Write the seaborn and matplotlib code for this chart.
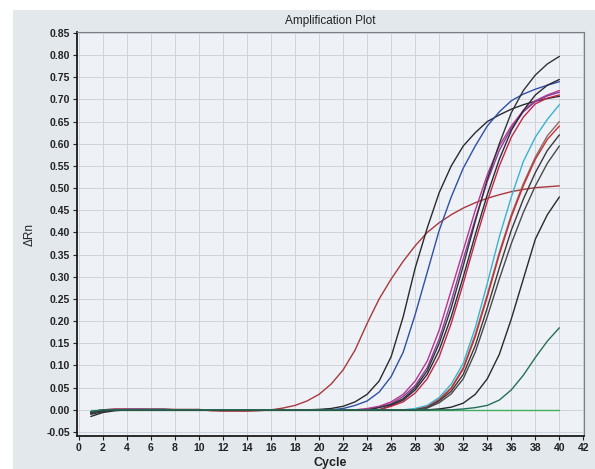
"""
Amplification plot (qPCR) - delta Rn vs cycle for each well.
"""

import matplotlib
matplotlib.use("Agg")
import matplotlib.pyplot as plt
from matplotlib.patches import Rectangle
import pandas as pd
import seaborn as sns

# ---------- DATA ----------
cycles = list(range(1, 41))

ntc_green = [0.0] * 40  # flat no-template control

red_early = [-0.005, 0.0, 0.002, 0.002, 0.002, 0.002, 0.002, 0.001, 0.001, 0.001,
             -0.002, -0.003, -0.003, -0.003, -0.002, 0.0, 0.004, 0.01, 0.02, 0.035,
             0.058, 0.09, 0.135, 0.195, 0.25, 0.295, 0.335, 0.37, 0.40, 0.422,
             0.44, 0.455, 0.467, 0.477, 0.485, 0.492, 0.497, 0.501, 0.503, 0.505]

black_early = [-0.015, -0.006, -0.002, 0.0, 0.0, 0.0, 0.0, 0.0, 0.0, 0.0,
               0.0, 0.0, 0.0, 0.0, 0.0, 0.0, 0.0, 0.0, 0.0, 0.001,
               0.003, 0.008, 0.018, 0.035, 0.065, 0.12, 0.21, 0.32, 0.41, 0.49,
               0.55, 0.595, 0.625, 0.65, 0.665, 0.678, 0.688, 0.696, 0.702, 0.707]

blue = [-0.008, -0.003, 0.0, 0.001, 0.001, 0.001, 0.001, 0.0, 0.0, 0.0,
        0.0, 0.0, 0.0, 0.0, 0.0, 0.0, 0.0, 0.0, 0.0, 0.0,
        0.0, 0.003, 0.01, 0.02, 0.04, 0.075, 0.13, 0.215, 0.31, 0.405,
        0.48, 0.545, 0.595, 0.64, 0.672, 0.697, 0.712, 0.723, 0.732, 0.74]

magenta = [-0.004, 0.0, 0.001, 0.001, 0.001, 0.0, 0.0, 0.0, 0.0, 0.0,
           0.0, 0.0, 0.0, 0.0, 0.0, 0.0, 0.0, 0.0, 0.0, 0.0,
           0.0, 0.0, 0.0, 0.003, 0.008, 0.018, 0.035, 0.065, 0.11, 0.18,
           0.27, 0.36, 0.45, 0.53, 0.595, 0.64, 0.675, 0.697, 0.71, 0.72]

purple = [-0.006, -0.002, 0.0, 0.0, 0.0, 0.0, 0.0, 0.0, 0.0, 0.0,
          0.0, 0.0, 0.0, 0.0, 0.0, 0.0, 0.0, 0.0, 0.0, 0.0,
          0.0, 0.0, 0.0, 0.0, 0.006, 0.014, 0.03, 0.055, 0.095, 0.16,
          0.245, 0.34, 0.43, 0.515, 0.585, 0.635, 0.672, 0.695, 0.708, 0.716]

black_top = [-0.01, -0.004, 0.0, 0.0, 0.0, 0.0, 0.0, 0.0, 0.0, 0.0,
             0.0, 0.0, 0.0, 0.0, 0.0, 0.0, 0.0, 0.0, 0.0, 0.0,
             0.0, 0.0, 0.0, 0.0, 0.005, 0.012, 0.025, 0.05, 0.088, 0.15,
             0.23, 0.325, 0.425, 0.52, 0.60, 0.67, 0.72, 0.755, 0.78, 0.797]

black_b = [-0.007, -0.002, 0.0, 0.0, 0.0, 0.0, 0.0, 0.0, 0.0, 0.0,
           0.0, 0.0, 0.0, 0.0, 0.0, 0.0, 0.0, 0.0, 0.0, 0.0,
           0.0, 0.0, 0.0, 0.0, 0.0, 0.01, 0.022, 0.045, 0.08, 0.135,
           0.21, 0.30, 0.395, 0.485, 0.565, 0.63, 0.675, 0.71, 0.732, 0.745]

crimson = [-0.005, -0.001, 0.0, 0.0, 0.0, 0.0, 0.0, 0.0, 0.0, 0.0,
           0.0, 0.0, 0.0, 0.0, 0.0, 0.0, 0.0, 0.0, 0.0, 0.0,
           0.0, 0.0, 0.0, 0.0, 0.0, 0.008, 0.018, 0.038, 0.07, 0.12,
           0.195, 0.285, 0.38, 0.47, 0.55, 0.615, 0.66, 0.69, 0.703, 0.71]

cyan = [-0.004, 0.0, 0.0, 0.0, 0.0, 0.0, 0.0, 0.0, 0.0, 0.0,
        0.0, 0.0, 0.0, 0.0, 0.0, 0.0, 0.0, 0.0, 0.0, 0.0,
        0.0, 0.0, 0.0, 0.0, 0.0, 0.0, 0.0, 0.003, 0.01, 0.028,
        0.058, 0.105, 0.185, 0.285, 0.39, 0.48, 0.56, 0.615, 0.655, 0.688]

red_late = [-0.006, -0.001, 0.0, 0.0, 0.0, 0.0, 0.0, 0.0, 0.0, 0.0,
            0.0, 0.0, 0.0, 0.0, 0.0, 0.0, 0.0, 0.0, 0.0, 0.0,
            0.0, 0.0, 0.0, 0.0, 0.0, 0.0, 0.0, 0.0, 0.006, 0.022,
            0.048, 0.092, 0.165, 0.255, 0.35, 0.435, 0.505, 0.565, 0.61, 0.64]

brown = [-0.005, -0.001, 0.0, 0.0, 0.0, 0.0, 0.0, 0.0, 0.0, 0.0,
         0.0, 0.0, 0.0, 0.0, 0.0, 0.0, 0.0, 0.0, 0.0, 0.0,
         0.0, 0.0, 0.0, 0.0, 0.0, 0.0, 0.0, 0.0, 0.007, 0.024,
         0.05, 0.095, 0.17, 0.26, 0.355, 0.44, 0.51, 0.57, 0.618, 0.65]

black_c = [-0.008, -0.003, 0.0, 0.0, 0.0, 0.0, 0.0, 0.0, 0.0, 0.0,
           0.0, 0.0, 0.0, 0.0, 0.0, 0.0, 0.0, 0.0, 0.0, 0.0,
           0.0, 0.0, 0.0, 0.0, 0.0, 0.0, 0.0, 0.0, 0.005, 0.02,
           0.042, 0.08, 0.145, 0.23, 0.32, 0.405, 0.475, 0.535, 0.585, 0.62]

black_d = [-0.006, -0.002, 0.0, 0.0, 0.0, 0.0, 0.0, 0.0, 0.0, 0.0,
           0.0, 0.0, 0.0, 0.0, 0.0, 0.0, 0.0, 0.0, 0.0, 0.0,
           0.0, 0.0, 0.0, 0.0, 0.0, 0.0, 0.0, 0.0, 0.004, 0.016,
           0.036, 0.07, 0.13, 0.21, 0.295, 0.375, 0.445, 0.505, 0.556, 0.595]

black_late = [-0.005, -0.001, 0.0, 0.0, 0.0, 0.0, 0.0, 0.0, 0.0, 0.0,
              0.0, 0.0, 0.0, 0.0, 0.0, 0.0, 0.0, 0.0, 0.0, 0.0,
              0.0, 0.0, 0.0, 0.0, 0.0, 0.0, 0.0, 0.0, 0.0, 0.002,
              0.006, 0.015, 0.035, 0.07, 0.125, 0.205, 0.295, 0.385, 0.44, 0.48]

teal = [-0.004, 0.0, 0.0, 0.0, 0.0, 0.0, 0.0, 0.0, 0.0, 0.0,
        0.0, 0.0, 0.0, 0.0, 0.0, 0.0, 0.0, 0.0, 0.0, 0.0,
        0.0, 0.0, 0.0, 0.0, 0.0, 0.0, 0.0, 0.0, 0.0, 0.0,
        0.0, 0.002, 0.005, 0.01, 0.022, 0.045, 0.078, 0.118, 0.155, 0.185]

wells = {
    "ntc": (ntc_green, "#3fae5a"),
    "red_early": (red_early, "#a8383c"),
    "black_early": (black_early, "#2a2a2e"),
    "blue": (blue, "#2f4fa8"),
    "magenta": (magenta, "#b8358f"),
    "purple": (purple, "#8a3f9a"),
    "black_top": (black_top, "#333338"),
    "black_b": (black_b, "#2c2c34"),
    "crimson": (crimson, "#c02748"),
    "cyan": (cyan, "#3ab3cc"),
    "brown": (brown, "#8c6c6c"),
    "red_late": (red_late, "#c8302e"),
    "black_c": (black_c, "#3a3a3e"),
    "black_d": (black_d, "#4a4a4e"),
    "black_late": (black_late, "#2a2a2e"),
    "teal": (teal, "#256f58"),
}

df = pd.DataFrame(
    [(name, c, v) for name, (vals, _) in wells.items() for c, v in zip(cycles, vals)],
    columns=["well", "cycle", "dRn"],
)
palette = {name: col for name, (_, col) in wells.items()}

# ---------- PLOT ----------
sns.set_theme(style="whitegrid")
plt.rcParams["font.family"] = ["Liberation Sans", "DejaVu Sans"]
plt.rcParams["axes.unicode_minus"] = False

fig = plt.figure(figsize=(5.95, 4.69), dpi=100)
fig.patch.set_facecolor("white")
fig.patches.append(Rectangle((13 / 595, 0), 1, 1 - 10 / 469, transform=fig.transFigure,
                             facecolor="#e3e8ed", edgecolor="none", zorder=-10))

ax = fig.add_axes([77 / 595, 1 - 436 / 469, 507 / 595, 404 / 469])
ax.set_facecolor("#eef2f6")

sns.lineplot(data=df, x="cycle", y="dRn", hue="well", palette=palette,
             hue_order=list(wells.keys()), legend=False, linewidth=1.0, ax=ax)

ax.set_xlim(-0.15, 42.05)
ax.set_ylim(-0.059, 0.852)
ax.set_xticks(range(0, 43, 2))
yt = [round(-0.05 + 0.05 * i, 2) for i in range(19)]
ax.set_yticks(yt)
ax.set_yticklabels([f"{v:.2f}" for v in yt])

ax.grid(True, color="#cfd4da", linewidth=0.7)
ax.tick_params(axis="both", which="major", direction="out", length=3, width=0.8,
               colors="#222222", labelsize=7.5, pad=2)
ax.tick_params(left=True, bottom=True)
for t in ax.get_xticklabels() + ax.get_yticklabels():
    t.set_fontweight("bold")

for side in ["left", "bottom"]:
    ax.spines[side].set_color("#1a1a1a")
    ax.spines[side].set_linewidth(1.3)
for side in ["top", "right"]:
    ax.spines[side].set_color("#7a7f85")
    ax.spines[side].set_linewidth(0.8)

ax.set_title("Amplification Plot", fontsize=8.5, color="#222222", pad=6)
ax.set_xlabel("Cycle", fontsize=9, fontweight="bold", color="#222222", labelpad=3)
ax.set_ylabel("ΔRn", fontsize=8.5, color="#222222", labelpad=8)

plt.savefig("out.png", dpi=100)
plt.close()
